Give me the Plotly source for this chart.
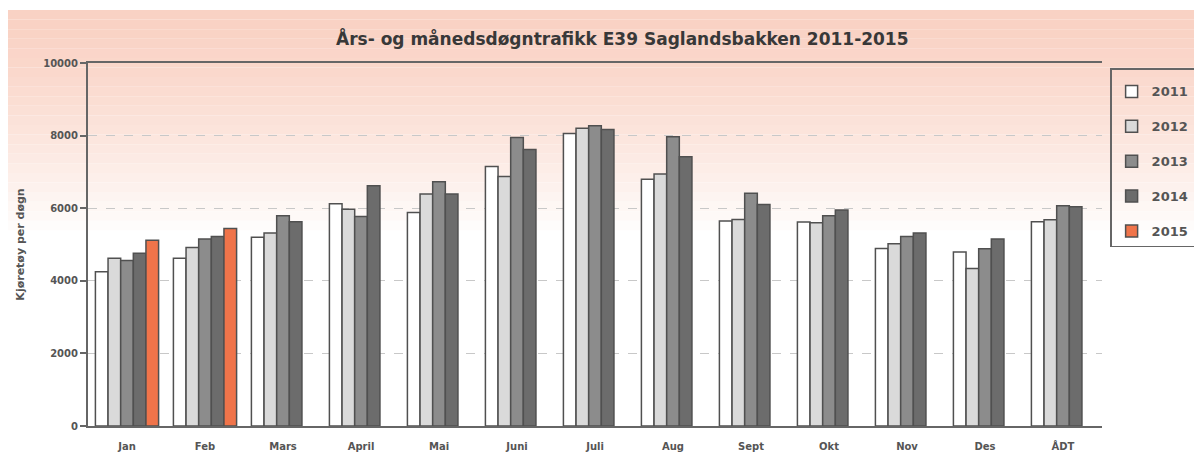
import plotly.graph_objects as go

categories = ["Jan", "Feb", "Mars", "April", "Mai", "Juni", "Juli", "Aug", "Sept", "Okt", "Nov", "Des", "ÅDT"]
years = ["2011", "2012", "2013", "2014", "2015"]
v2011 = [4250, 4620, 5200, 6120, 5880, 7150, 8060, 6800, 5650, 5620, 4890, 4790, 5630]
v2012 = [4620, 4920, 5320, 5970, 6390, 6870, 8200, 6940, 5690, 5600, 5020, 4340, 5680]
v2013 = [4560, 5150, 5790, 5770, 6730, 7950, 8270, 7970, 6410, 5790, 5220, 4880, 6070]
v2014 = [4760, 5220, 5630, 6620, 6390, 7620, 8170, 7420, 6100, 5950, 5320, 5150, 6040]
v2015 = [5120, 5440, None, None, None, None, None, None, None, None, None, None, None]
series = [v2011, v2012, v2013, v2014, v2015]
colors = ["#ffffff", "#dadada", "#8c8c8c", "#6c6c6c", "#f0744a"]

FONT = "DejaVu Sans, Liberation Sans, Arial, sans-serif"

fig = go.Figure()
for name, vals, col in zip(years, series, colors):
    fig.add_trace(go.Bar(
        x=categories, y=vals, name=f"<b>{name}</b>", legendgroup=name,
        marker=dict(color=col, line=dict(color="#505050", width=1.5)),
    ))

# pinkish scanned background fading to white
shapes = []
n = 24
top, bottom = 10, 240
for i in range(n):
    y0 = top + (bottom - top) * i / n
    y1 = top + (bottom - top) * (i + 1) / n
    t = i / (n - 1)
    r = 249 + int(6 * t)
    g = 210 + int(45 * t ** 1.4)
    b = 196 + int(59 * t ** 1.4)
    shapes.append(dict(
        type="rect", xref="paper", yref="paper", layer="below",
        x0=-88 / 1014, x1=(1202 - 88) / 1014,
        y0=(426 - y1) / 363, y1=(426 - y0) / 363,
        line=dict(width=0), fillcolor=f"rgb({min(r,255)},{min(g,255)},{min(b,255)})",
    ))

fig.update_layout(
    width=1202, height=459,
    margin=dict(l=80, r=108, t=55, b=41),
    paper_bgcolor="white", plot_bgcolor="rgba(0,0,0,0)",
    barmode="group", bargap=0.19, bargroupgap=0,
    shapes=shapes,
    font=dict(family=FONT, color="#555555"),
    showlegend=True,
    legend=dict(
        x=1.008, xanchor="left", y=0.985, yanchor="top",
        bordercolor="#666666", borderwidth=1.5, bgcolor="rgba(0,0,0,0)",
        font=dict(size=13, color="#555555", family=FONT),
        tracegroupgap=15, itemwidth=30,
        title=dict(text=" ", font=dict(size=5)),
    ),
    annotations=[
        dict(text="<b>Års- og månedsdøgntrafikk E39 Saglandsbakken 2011-2015</b>",
             xref="paper", yref="paper", x=0.527, y=(426 - 38) / 363,
             xanchor="center", yanchor="middle", showarrow=False,
             font=dict(size=17, color="#383838", family=FONT)),
    ],
)
fig.update_xaxes(
    showline=True, linecolor="#666666", linewidth=2, mirror=True,
    tickfont=dict(size=10, color="#555555", family=FONT), ticks="",
    ticklabelstandoff=10,
    tickvals=categories, ticktext=[f"<b>{c}</b>" for c in categories],
)
fig.update_yaxes(
    range=[0, 10000], tickvals=[0, 2000, 4000, 6000, 8000, 10000],
    ticktext=["<b>0</b>", "<b>2000</b>", "<b>4000</b>", "<b>6000</b>", "<b>8000</b>", "<b>10000</b>"],
    showline=True, linecolor="#666666", linewidth=2,
    ticks="outside", ticklen=6, tickcolor="#666666", tickwidth=2,
    tickfont=dict(size=10, color="#555555", family=FONT),
    showgrid=True, gridcolor="#c8c8c8", griddash="dash", gridwidth=1,
    zeroline=False,
    title=dict(text="<b>Kjøretøy per døgn</b>", font=dict(size=11, color="#555555", family=FONT), standoff=16),
)

fig.write_html("out.html")
